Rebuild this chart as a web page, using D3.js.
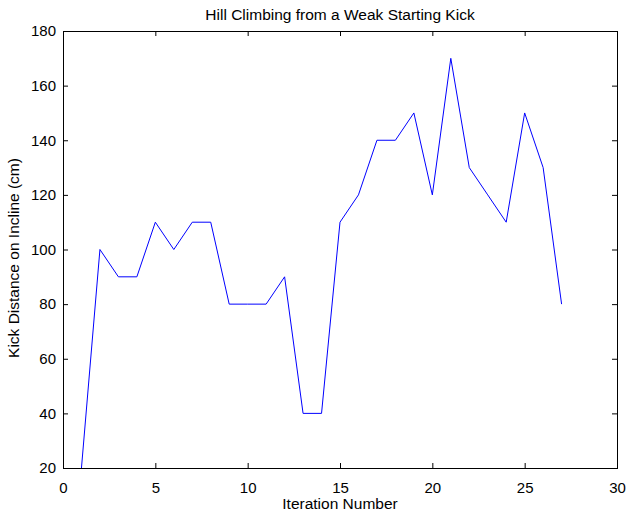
<!DOCTYPE html>
<html><head><meta charset="utf-8">
<script src="https://cdn.jsdelivr.net/npm/d3@7"></script>
<style>body{margin:0;background:#fff}svg{display:block}text{font-family:"Liberation Sans",Arial,sans-serif;fill:#000}</style>
</head><body><svg id="c" width="628" height="513"></svg>
<script>
const iterations = [1,2,3,4,5,6,7,8,9,10,11,12,13,14,15,16,17,18,19,20,21,22,23,24,25,26,27];
const distances = [20,100,90,90,110,100,110,110,80,80,80,90,40,40,110,120,140,140,150,120,170,130,120,110,150,130,80];
const xTicks = [0,5,10,15,20,25,30];
const yTicks = [20,40,60,80,100,120,140,160,180];

const L=63,R=617,T=31,B=468;
const svg=d3.select("#c");
const x=d3.scaleLinear().domain([0,30]).range([L,R]);
const y=d3.scaleLinear().domain([20,180]).range([B,T]);
const fsTick="15px", fsLab="15.5px";

svg.append("g").attr("transform",`translate(0,${B})`)
  .call(d3.axisBottom(x).tickValues(xTicks).tickSizeInner(-5).tickSizeOuter(0).tickPadding(14))
  .call(g=>{g.select(".domain").remove();g.selectAll("text").style("font-size",fsTick).attr("fill","#000");});
svg.append("g").attr("transform",`translate(0,${T})`)
  .call(d3.axisTop(x).tickValues(xTicks).tickSizeInner(-5).tickSizeOuter(0).tickFormat(""))
  .call(g=>g.select(".domain").remove());
svg.append("g").attr("transform",`translate(${L},0)`)
  .call(d3.axisLeft(y).tickValues(yTicks).tickSizeInner(-5).tickSizeOuter(0).tickPadding(7))
  .call(g=>{g.select(".domain").remove();g.selectAll("text").style("font-size",fsTick).attr("fill","#000");});
svg.append("g").attr("transform",`translate(${R},0)`)
  .call(d3.axisRight(y).tickValues(yTicks).tickSizeInner(-5).tickSizeOuter(0).tickFormat(""))
  .call(g=>g.select(".domain").remove());

svg.append("rect").attr("x",L+0.5).attr("y",T+0.5).attr("width",R-L).attr("height",B-T)
  .attr("fill","none").attr("stroke","#000").attr("stroke-width",1);

const data=iterations.map((d,i)=>[d,distances[i]]);
svg.append("path").datum(data)
  .attr("d",d3.line().x(d=>x(d[0])).y(d=>y(d[1])))
  .attr("fill","none").attr("stroke","#0000ff").attr("stroke-width",1);

svg.append("text").attr("x",340).attr("y",20).attr("text-anchor","middle").style("font-size",fsLab)
  .text("Hill Climbing from a Weak Starting Kick");
svg.append("text").attr("x",340).attr("y",509).attr("text-anchor","middle").style("font-size",fsLab)
  .text("Iteration Number");
svg.append("text").attr("transform",`translate(19,258) rotate(-90)`).attr("text-anchor","middle").style("font-size",fsLab)
  .text("Kick Distance on Incline (cm)");
</script></body></html>
